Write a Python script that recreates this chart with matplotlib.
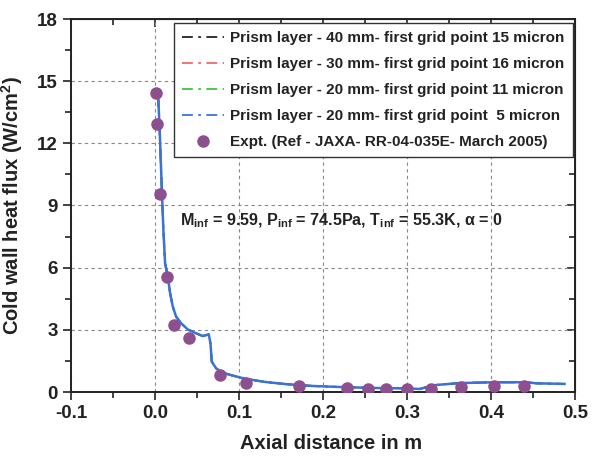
import matplotlib
matplotlib.use("Agg")
import matplotlib.pyplot as plt
from matplotlib.lines import Line2D
from matplotlib.ticker import MultipleLocator, FuncFormatter

plt.rcParams['font.family'] = ['Liberation Sans', 'DejaVu Sans']
plt.rcParams['font.weight'] = 'bold'
plt.rcParams['axes.labelweight'] = 'bold'
plt.rcParams['mathtext.fontset'] = 'custom'
plt.rcParams['mathtext.rm'] = 'Liberation Sans:bold'
plt.rcParams['mathtext.it'] = 'Liberation Sans:bold'
plt.rcParams['mathtext.bf'] = 'Liberation Sans:bold'

# CFD heat flux along the body (all prism-layer grids collapse onto one curve)
x_cfd = [0.002, 0.004, 0.006, 0.008, 0.010, 0.012, 0.0153, 0.018, 0.0212, 0.0252,
         0.0312, 0.039, 0.049, 0.057, 0.064, 0.066, 0.0676, 0.0728, 0.0807, 0.0926,
         0.1086, 0.132, 0.156, 0.188, 0.228, 0.267, 0.299, 0.315, 0.323, 0.335,
         0.3625, 0.402, 0.442, 0.454, 0.4875]
q_cfd = [14.41, 14.09, 12.16, 9.9, 7.81, 6.21, 5.56, 4.76, 4.12, 3.63,
         3.31, 3.02, 2.83, 2.70, 2.78, 2.35, 1.46, 1.14, 0.93, 0.79,
         0.63, 0.48, 0.38, 0.29, 0.23, 0.19, 0.18, 0.145, 0.23, 0.34,
         0.43, 0.47, 0.47, 0.42, 0.39]

# JAXA wind tunnel measurements
x_exp = [0.0015, 0.0025, 0.0065, 0.0147, 0.0226, 0.041, 0.0774, 0.108, 0.171,
         0.228, 0.254, 0.275, 0.300, 0.329, 0.364, 0.404, 0.439]
q_exp = [14.41, 12.94, 9.54, 5.56, 3.23, 2.59, 0.82, 0.45, 0.30,
         0.18, 0.16, 0.14, 0.14, 0.16, 0.26, 0.27, 0.30]

labels = [
    "Prism layer - 40 mm- first grid point 15 micron",
    "Prism layer - 30 mm- first grid point 16 micron",
    "Prism layer - 20 mm- first grid point 11 micron",
    "Prism layer - 20 mm- first grid point  5 micron",
    "Expt. (Ref - JAXA- RR-04-035E- March 2005)",
]
line_colors = ["#222222", "#f06a6a", "#3ec43e", "#3a72d8"]
point_color = "#8e4f8e"
ink = '#222222'

fig = plt.figure(figsize=(5.96, 4.61), dpi=100)
ax = fig.add_axes([71 / 596, 1 - 392 / 461, (575 - 71) / 596, (392 - 19) / 461])

for c in line_colors[:3]:
    ax.plot(x_cfd, q_cfd, color=c, lw=1.3, ls=(0, (8, 3, 1.5, 3)), zorder=2)
ax.plot(x_cfd, q_cfd, color=line_colors[3], lw=1.8, zorder=3)
ax.plot(x_exp, q_exp, 'o', color=point_color, ms=8, mec=point_color, zorder=4)

ax.set_xlim(-0.1, 0.5)
ax.set_ylim(0, 18)
ax.xaxis.set_major_locator(MultipleLocator(0.1))
ax.xaxis.set_minor_locator(MultipleLocator(0.05))
ax.yaxis.set_major_locator(MultipleLocator(3))
ax.yaxis.set_minor_locator(MultipleLocator(1.5))
ax.xaxis.set_major_formatter(FuncFormatter(lambda v, p: f"{v:.1f}"))
ax.yaxis.set_major_formatter(FuncFormatter(lambda v, p: f"{int(round(v))}"))

ax.grid(True, which='major', color='#888888', ls=(0, (3, 3)), lw=0.8)
ax.tick_params(which='both', direction='out', width=1.2, labelsize=13.5, colors=ink,
               top=False, right=False)
ax.tick_params(which='major', length=6)
ax.tick_params(which='minor', length=4)
for sp in ax.spines.values():
    sp.set_linewidth(1.4)
    sp.set_color(ink)

# inward ticks on the top and right frame
ax2 = ax.secondary_xaxis('top')
ax2.xaxis.set_major_locator(MultipleLocator(0.1))
ax2.xaxis.set_minor_locator(MultipleLocator(0.05))
ax2.tick_params(which='both', direction='in', labeltop=False, width=1.2, colors=ink)
ax2.tick_params(which='major', length=6)
ax2.tick_params(which='minor', length=4)
ax3 = ax.secondary_yaxis('right')
ax3.yaxis.set_major_locator(MultipleLocator(3))
ax3.yaxis.set_minor_locator(MultipleLocator(1.5))
ax3.tick_params(which='both', direction='in', labelright=False, width=1.2, colors=ink)
ax3.tick_params(which='major', length=6)
ax3.tick_params(which='minor', length=4)

ax.set_xlabel("Axial distance in m", fontsize=14.5, color=ink)
ax.xaxis.set_label_coords((331 - 71) / 504, -(434 - 392) / 373)
ax.set_ylabel("Cold wall heat flux (W/cm$^2$)", fontsize=14.5, color=ink)
ax.yaxis.set_label_coords(-(71 - 25) / 504, 0.5)

ax.text(0.222, 8.25, r"M$_{inf}$ = 9.59, P$_{inf}$ = 74.5Pa, T$_{inf}$ = 55.3K, α = 0",
        fontsize=11.6, ha='center', va='center', color=ink)

handles = [Line2D([], [], color=c, lw=1.3, ls=(0, (6, 3, 1.5, 3))) for c in line_colors]
handles.append(Line2D([], [], ls='none', marker='o', color=point_color, ms=8))
leg = ax.legend(handles, labels, loc='upper right',
                bbox_to_anchor=((573 - 71) / 504, (392 - 23) / 373),
                fontsize=11, frameon=True, fancybox=False, edgecolor='#333333',
                handlelength=2.75, borderpad=0.55, labelspacing=0.78, handletextpad=0.4,
                borderaxespad=0)
leg.get_frame().set_linewidth(1.0)
leg.get_frame().set_alpha(1)
for t in leg.get_texts():
    t.set_color(ink)

fig.savefig("out.png", dpi=100)
